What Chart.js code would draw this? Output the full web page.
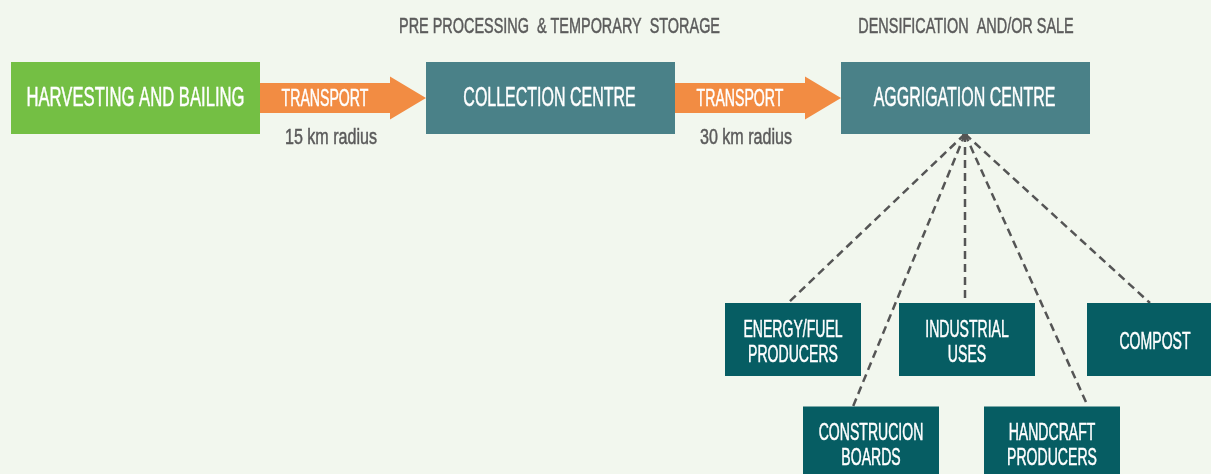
<!DOCTYPE html>
<html>
<head>
<meta charset="utf-8">
<script src="https://cdn.jsdelivr.net/npm/chart.js@4.4.1/dist/chart.umd.min.js"></script>
<style>
  html, body { margin: 0; padding: 0; background: #f2f7ee; overflow: hidden; }
  canvas { display: block; }
</style>
</head>
<body>
<canvas id="flow" width="1211" height="474"></canvas>
<script>
'use strict';

// stages along the main chain (centre x in diagram units)
const stageLabels = ['HARVESTING AND BAILING', 'COLLECTION CENTRE', 'AGGRIGATION CENTRE'];
const stageX = [135.5, 550.5, 965.5];
const stageY = [98, 98, 98];

// transport legs between stages
const legLabels = ['TRANSPORT', 'TRANSPORT'];
const legRadius = ['15 km radius', '30 km radius'];
const legFrom = [260, 675];
const legTo = [426, 841];

// headings above the stages
const headerLabels = ['PRE PROCESSING  & TEMPORARY  STORAGE', 'DENSIFICATION  AND/OR SALE'];
const headerX = [559.5, 966];

// end uses fed from the aggrigation centre
const useLabels = [['ENERGY/FUEL', 'PRODUCERS'], ['CONSTRUCION', 'BOARDS'], ['INDUSTRIAL', 'USES'], ['HANDCRAFT', 'PRODUCERS'], ['COMPOST']];
const useX = [793, 871, 967, 1052, 1155];
const useY = [339.5, 443, 339.5, 443, 339.5];
const useAnchorX = [788, 853, 965, 1088, 1150];
const useAnchorY = [303, 406.5, 303, 406.5, 303];
const hubX = 965;
const hubY = 134;

const FONT = '"Liberation Sans", Arial, sans-serif';
const CAP = 0.716;
let squeeze = 0.6;

// text drawn condensed, vertically centred on its capital height
function drawText(ctx, text, x, y, size, color, k) {
    ctx.save();
    ctx.font = size + 'px ' + FONT;
    ctx.fillStyle = color;
    ctx.strokeStyle = color;
    ctx.lineWidth = 0.5;
    ctx.textAlign = 'center';
    ctx.textBaseline = 'alphabetic';
    ctx.translate(x, y + size * CAP / 2);
    ctx.scale(squeeze * (k || 1), 1);
    ctx.fillText(text, 0, 0);
    ctx.strokeText(text, 0, 0);
    ctx.restore();
}

const diagramPlugin = {
    id: 'diagram',
    beforeDraw: function (chart) {
        const ctx = chart.ctx;
        ctx.save();
        ctx.fillStyle = '#f2f7ee';
        ctx.fillRect(0, 0, chart.width, chart.height);
        ctx.restore();
    },
    afterDatasetsDraw: function (chart) {
        const ctx = chart.ctx;
        const sx = chart.scales.x, sy = chart.scales.y;
        const px = v => sx.getPixelForValue(v);
        const py = v => sy.getPixelForValue(v);

        ctx.save();
        ctx.font = '27px ' + FONT;
        squeeze = 218 / ctx.measureText(stageLabels[0]).width;
        ctx.restore();

        // hub dot
        ctx.save();
        ctx.fillStyle = '#555555';
        ctx.beginPath();
        ctx.arc(px(hubX), py(hubY), 3, 0, Math.PI * 2);
        ctx.fill();
        ctx.restore();

        // headers
        headerLabels.forEach((t, i) => drawText(ctx, t, px(headerX[i]), py(25), 22.5, '#5b5b5b', 1.04));

        // stage boxes
        const stageColors = ['#74bf44', '#4a8188', '#4a8188'];
        stageLabels.forEach((t, i) => {
            const x0 = px(stageX[i] - 124.5), x1 = px(stageX[i] + 124.5);
            const y0 = py(stageY[i] - 36), y1 = py(stageY[i] + 36);
            ctx.fillStyle = stageColors[i];
            ctx.fillRect(x0, y0, x1 - x0, y1 - y0);
            drawText(ctx, t, px(stageX[i] - (i === 0 ? 0 : 1)), py(stageY[i] - 1.5), 27, '#ffffff', i === 0 ? 1 : 0.96);
        });

        // transport arrows
        legLabels.forEach((t, i) => {
            const a = legFrom[i], b = legTo[i], head = 36;
            ctx.fillStyle = '#f28c43';
            ctx.beginPath();
            ctx.moveTo(px(a), py(83));
            ctx.lineTo(px(b - head), py(83));
            ctx.lineTo(px(b - head), py(76.5));
            ctx.lineTo(px(b), py(98));
            ctx.lineTo(px(b - head), py(119.5));
            ctx.lineTo(px(b - head), py(113));
            ctx.lineTo(px(a), py(113));
            ctx.closePath();
            ctx.fill();
            drawText(ctx, t, px(a + 65), py(97.5), 24, '#ffffff', 0.955);
            drawText(ctx, legRadius[i], px(a + 71), py(135.5), 22.5, '#5b5b5b', 1.16);
        });

        // end-use boxes
        useLabels.forEach((lines, i) => {
            const x0 = px(useX[i] - 68), x1 = px(useX[i] + 68);
            const y0 = py(useY[i] - 36.5), y1 = py(useY[i] + 36.5);
            ctx.fillStyle = '#065d63';
            ctx.fillRect(x0, y0, x1 - x0, y1 - y0);
            const gap = 25;
            lines.forEach((t, j) => {
                const y = useY[i] + (j - (lines.length - 1) / 2) * gap;
                drawText(ctx, t, px(useX[i]), py(y + 1.5), 23.5, '#ffffff', 0.97);
            });
        });
    }
};

const connectorSets = useLabels.map((l, i) => ({
    label: l.join(' '),
    data: [{x: hubX, y: hubY}, {x: useAnchorX[i], y: useAnchorY[i]}],
    showLine: true,
    borderColor: '#555555',
    borderWidth: 2.5,
    borderDash: [8, 5],
    pointRadius: 0,
    fill: false
}));

new Chart(document.getElementById('flow').getContext('2d'), {
    type: 'scatter',
    data: {datasets: connectorSets},
    options: {
        responsive: false,
        animation: false,
        devicePixelRatio: 1,
        layout: {padding: 0},
        plugins: {legend: {display: false}, tooltip: {enabled: false}},
        scales: {
            x: {type: 'linear', min: 0, max: 1211, display: false},
            y: {type: 'linear', min: 0, max: 474, reverse: true, display: false}
        }
    },
    plugins: [diagramPlugin]
});
</script>
</body>
</html>
